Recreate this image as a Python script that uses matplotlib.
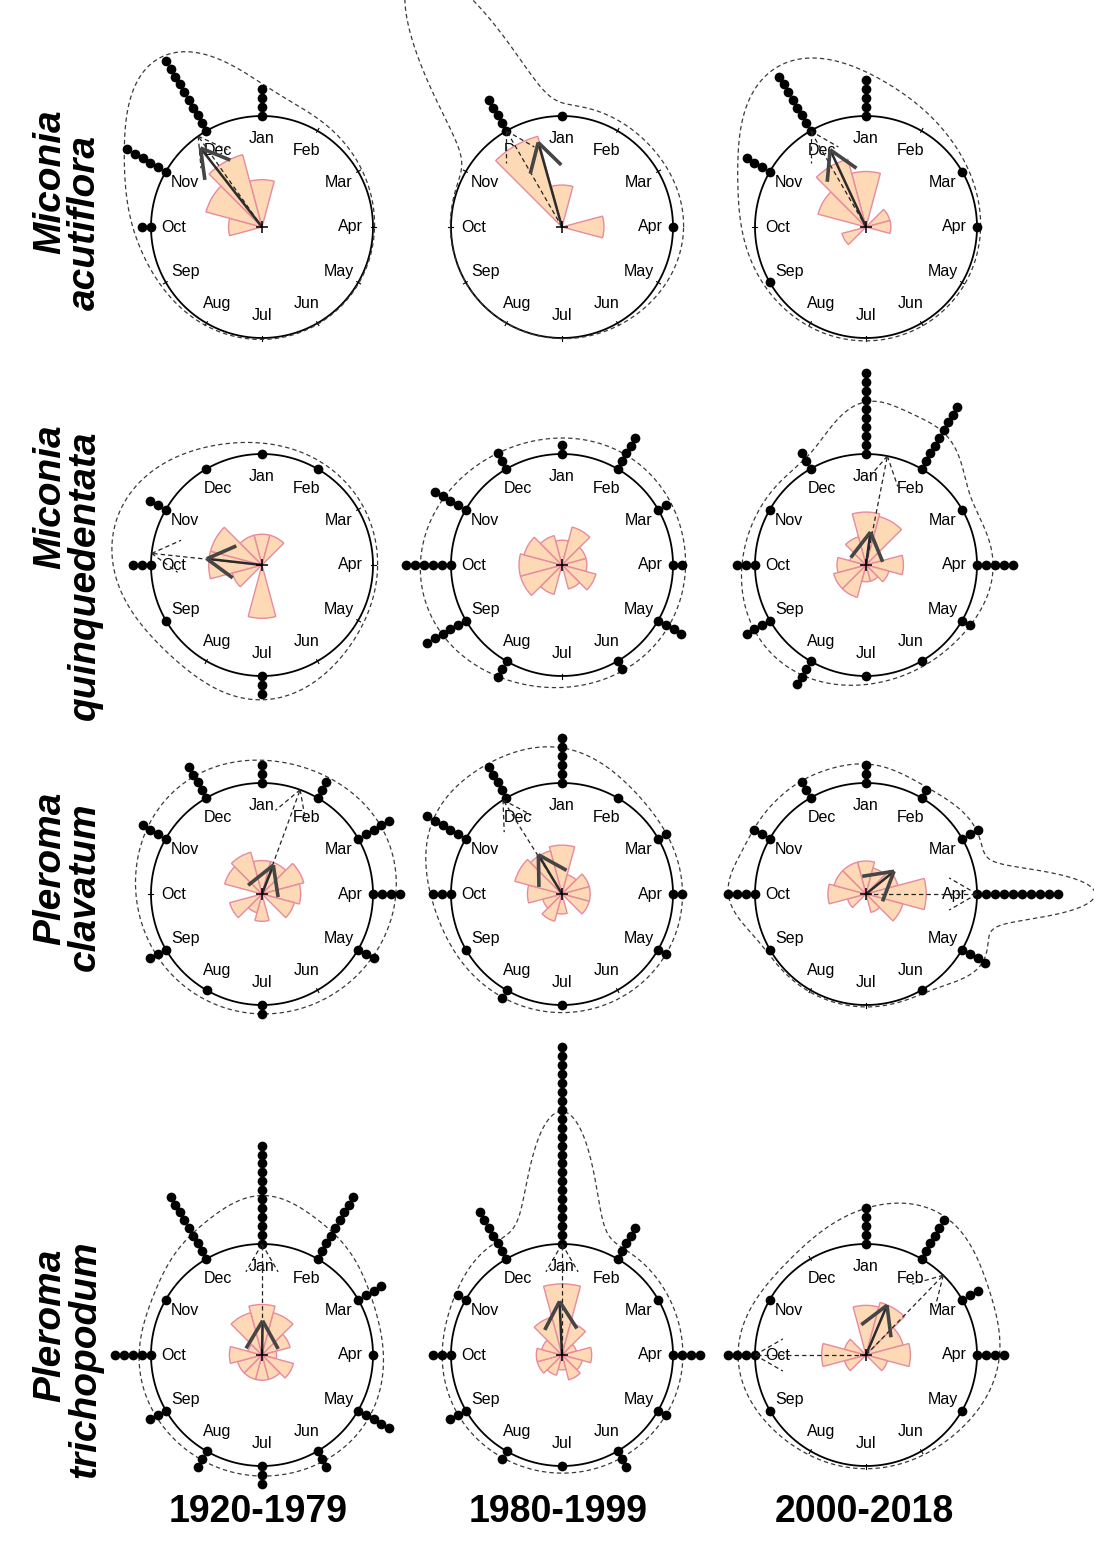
import numpy as np
import matplotlib
matplotlib.use('Agg')
import matplotlib.pyplot as plt
from matplotlib.patches import Wedge

plt.rcParams['font.family'] = ['Liberation Sans', 'DejaVu Sans']

W, H = 1094, 1546

months = ['Jan', 'Feb', 'Mar', 'Apr', 'May', 'Jun',
          'Jul', 'Aug', 'Sep', 'Oct', 'Nov', 'Dec']
genus = ['Miconia', 'Miconia', 'Pleroma', 'Pleroma']
epithet = ['acutiflora', 'quinquedentata', 'clavatum', 'trichopodum']
periods = ['1920-1979', '1980-1999', '2000-2018']

# flowering records per month (Jan..Dec), one list per period
counts_acutiflora = [
    [4, 0, 0, 0, 0, 0, 0, 0, 0, 2, 6, 10],
    [1, 0, 0, 1, 0, 0, 0, 0, 0, 0, 0, 5],
    [5, 0, 1, 1, 0, 0, 0, 0, 1, 0, 4, 8],
]
counts_quinquedentata = [
    [1, 1, 0, 0, 0, 0, 3, 0, 1, 3, 3, 1],
    [2, 5, 2, 2, 4, 2, 0, 3, 6, 6, 5, 3],
    [10, 9, 1, 5, 2, 1, 1, 4, 4, 3, 1, 3],
]
counts_clavatum = [
    [3, 3, 5, 4, 3, 0, 2, 1, 3, 0, 4, 5],
    [6, 1, 2, 2, 2, 0, 1, 2, 1, 3, 6, 5],
    [3, 2, 3, 10, 4, 1, 0, 0, 1, 4, 3, 3],
]
counts_trichopodum = [
    [12, 9, 4, 1, 5, 3, 3, 3, 3, 5, 1, 9],
    [23, 5, 1, 4, 2, 3, 1, 2, 3, 3, 2, 7],
    [5, 6, 3, 4, 1, 0, 0, 0, 1, 4, 1, 0],
]

# median direction(s), in months from Jan (dashed arrows)
median_acutiflora = [[10.83], [11.0], [11.0]]
median_quinquedentata = [[9.2], [], [0.37]]
median_clavatum = [[0.67], [10.93], [3.0]]
median_trichopodum = [[0.0], [0.0], [1.47, 9.0]]

# mean vector drawn or not
mean_acutiflora = [True, True, True]
mean_quinquedentata = [True, False, True]
mean_clavatum = [True, True, True]
mean_trichopodum = [True, True, True]

# base concentration of the (adaptive) von Mises kernel density
bw_acutiflora = [4, 10, 2]
bw_quinquedentata = [2, 1.5, 4]
bw_clavatum = [1.5, 2, 15]
bw_trichopodum = [3.5, 4, 3]

all_counts = [counts_acutiflora, counts_quinquedentata, counts_clavatum, counts_trichopodum]
all_medians = [median_acutiflora, median_quinquedentata, median_clavatum, median_trichopodum]
all_means = [mean_acutiflora, mean_quinquedentata, mean_clavatum, mean_trichopodum]
all_bw = [bw_acutiflora, bw_quinquedentata, bw_clavatum, bw_trichopodum]

# panel layout in pixels
col_x = [262, 562, 866]
row_y = [227, 565, 894, 1355]
R = 111.0
L = 1.5 * R

DOT_STEP = 0.0806
HEAD = 0.29
HEAD_ANG = np.deg2rad(30)
DASH = (3.5, 2.5)


def month_angle(m):
    return np.deg2rad(90 - 30 * np.asarray(m, dtype=float))


def draw_head(ax, phi, r, **kw):
    tip = np.array([r * np.cos(phi), r * np.sin(phi)])
    for s in (-1, 1):
        a = phi + np.pi + s * HEAD_ANG
        ax.plot([tip[0], tip[0] + HEAD * np.cos(a)],
                [tip[1], tip[1] + HEAD * np.sin(a)], **kw)


def vm_kde(t, ang, counts, bw):
    # adaptive bandwidth: busier months get a narrower kernel
    n = counts.sum()
    cbar = counts[counts > 0].mean()
    dens = np.zeros_like(t)
    for a, c in zip(ang, counts):
        if c == 0:
            continue
        k = bw * (c / cbar) ** 1.5
        dens += c / n * np.exp(k * (np.cos(t - a) - 1)) / (2 * np.pi * np.i0(k) * np.exp(-k))
    return dens


def circ_panel(ax, counts, medians, show_mean, bw):
    counts = np.array(counts, dtype=float)
    n = counts.sum()
    ang = month_angle(np.arange(12))

    # unit circle and ticks
    t = np.linspace(0, 2 * np.pi, 720)
    ax.plot(np.cos(t), np.sin(t), color='black', lw=1.3, clip_on=False, zorder=2)
    for a in ang:
        ax.plot([0.985 * np.cos(a), 1.025 * np.cos(a)],
                [0.985 * np.sin(a), 1.025 * np.sin(a)],
                color='black', lw=0.8, clip_on=False, zorder=2)

    # month labels
    for a, lab in zip(ang, months):
        ax.text(0.8 * np.cos(a), 0.8 * np.sin(a), lab, ha='center', va='center',
                fontsize=11.5, color='black', zorder=3)

    # rose diagram (sqrt scaled)
    for a, c in zip(ang, counts):
        if c > 0:
            r = np.sqrt(c / n)
            ax.add_patch(Wedge((0, 0), r, np.rad2deg(a) - 15, np.rad2deg(a) + 15,
                               facecolor='#FDD9B5', edgecolor='#E88A9E', lw=1.0,
                               zorder=4, clip_on=False))

    # stacked dots
    for a, c in zip(ang, counts):
        if c == 0:
            continue
        rr = 1 + np.arange(int(c)) * DOT_STEP
        ax.plot(rr * np.cos(a), rr * np.sin(a), 'o', ms=7, color='black',
                mec='none', zorder=6, clip_on=False)

    # kernel density
    rd = 1 + vm_kde(t, ang, counts, bw)
    ax.plot(rd * np.cos(t), rd * np.sin(t), color='#3a3a3a', lw=0.9,
            dashes=DASH, clip_on=False, zorder=5)

    # median arrows (dashed)
    for m in medians:
        phi = month_angle(m)
        kw = dict(color='#222222', lw=0.9, dashes=DASH, clip_on=False, zorder=7)
        ax.plot([0, np.cos(phi)], [0, np.sin(phi)], **kw)
        draw_head(ax, phi, 1.0, **kw)

    # mean resultant vector
    if show_mean:
        C = (counts * np.cos(ang)).sum() / n
        S = (counts * np.sin(ang)).sum() / n
        rho = np.hypot(C, S)
        phi = np.arctan2(S, C)
        ax.plot([0, rho * np.cos(phi)], [0, rho * np.sin(phi)], color='#2b2b2b',
                lw=1.8, solid_capstyle='butt', clip_on=False, zorder=8)
        draw_head(ax, phi, rho, color='#454545', lw=2.6, solid_capstyle='butt',
                  clip_on=False, zorder=8)

    # centre mark
    ax.plot([0], [0], marker='+', ms=8, mew=1.1, color='black', zorder=9, clip_on=False)


fig = plt.figure(figsize=(W / 100, H / 100), dpi=100)

for i in range(4):
    for j in range(3):
        cx, cy = col_x[j], row_y[i]
        ax = fig.add_axes([(cx - L) / W, 1 - (cy + L) / H, 2 * L / W, 2 * L / H])
        ax.set_xlim(-L / R, L / R)
        ax.set_ylim(-L / R, L / R)
        ax.set_axis_off()
        circ_panel(ax, all_counts[i][j], all_medians[i][j], all_means[i][j], all_bw[i][j])

# species labels, two rotated lines each
genus_y = [182, 497, 868, 1325]
epithet_y = [223, 575, 887, 1359]
for i in range(4):
    fig.text(60 / W, 1 - genus_y[i] / H, genus[i], rotation=90, rotation_mode='anchor',
             ha='center', va='baseline', fontsize=28, fontweight='bold', fontstyle='italic')
    fig.text(95 / W, 1 - epithet_y[i] / H, epithet[i], rotation=90, rotation_mode='anchor',
             ha='center', va='baseline', fontsize=28, fontweight='bold', fontstyle='italic')

title_x = [258, 558, 864]
for j, p in enumerate(periods):
    fig.text(title_x[j] / W, 1 - 1512 / H, p, ha='center', va='center',
             fontsize=27, fontweight='bold')

fig.savefig('out.png', dpi=100)
